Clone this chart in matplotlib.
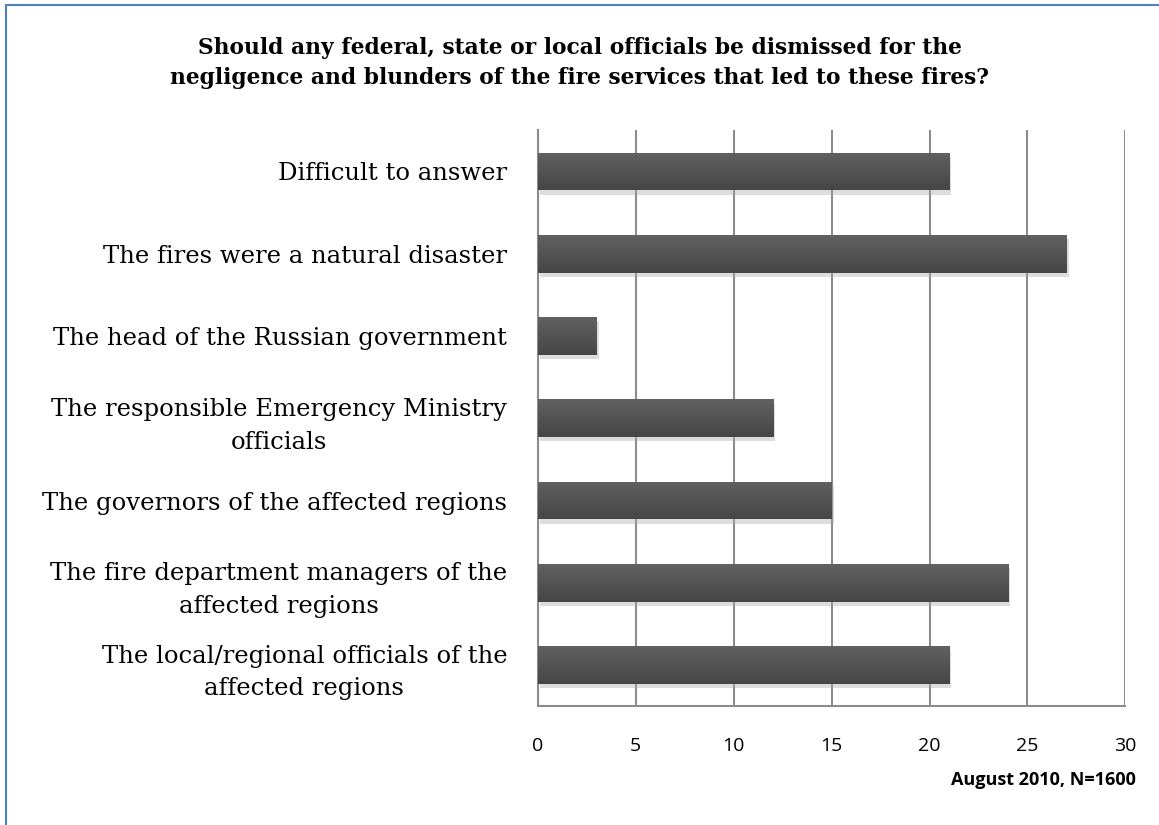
import numpy as np
import matplotlib.pyplot as plt
import matplotlib.patheffects as pe

# survey answers, top to bottom as shown
categories = ["Difficult to answer",
              "The fires were a natural disaster",
              "The head of the Russian government",
              "The responsible Emergency Ministry\nofficials",
              "The governors of the affected regions",
              "The fire department managers of the\naffected regions",
              "The local/regional officials of the\naffected regions"]
values = [21, 27, 3, 12, 15, 24, 21]
xticks = [0, 5, 10, 15, 20, 25, 30]

fig = plt.figure(figsize=(11.59, 8.25), dpi=100)
ax = fig.add_axes([0.464, 0.144, 0.507, 0.698])

y = np.arange(len(categories))
bars = ax.barh(y, values, height=0.46, color="#535353", zorder=3)
for b in bars:
    b.set_path_effects([pe.SimplePatchShadow(offset=(1.5, -3), shadow_rgbFace="#aaaaaa", alpha=0.4), pe.Normal()])

# light-to-dark vertical gradient on every bar
grad = np.linspace(0, 1, 64).reshape(-1, 1)
for b in bars:
    x0, y0 = b.get_x(), b.get_y()
    im = ax.imshow(grad, cmap=plt.matplotlib.colors.LinearSegmentedColormap.from_list("g", ["#616161", "#464646"]),
                   extent=(x0, x0 + b.get_width(), y0 + b.get_height(), y0), aspect="auto", zorder=3.5)
    im.set_clip_path(b)

ax.set_ylim(len(categories) - 0.5, -0.5)
ax.set_xlim(0, 30)
ax.set_xticks(xticks)
ax.set_xticklabels([str(t) for t in xticks], fontfamily="Open Sans", fontsize=14)
ax.set_yticks(y)
ax.set_yticklabels(categories, fontfamily="DejaVu Serif", fontsize=17.5, multialignment="center",
                   linespacing=1.55)
ax.tick_params(axis="both", length=0)
ax.tick_params(axis="x", pad=22)
ax.tick_params(axis="y", pad=22)
ax.grid(axis="x", color="#8c8c8c", linewidth=1.5, zorder=0)
for s in ["top", "right"]:
    ax.spines[s].set_visible(False)
for s in ["left", "bottom"]:
    ax.spines[s].set_color("#8c8c8c")
    ax.spines[s].set_linewidth(1.5)

fig.text(0.5, 0.924, "Should any federal, state or local officials be dismissed for the\n"
         "negligence and blunders of the fire services that led to these fires?",
         ha="center", va="center", fontfamily="DejaVu Serif", fontweight="bold", fontsize=15.7,
         linespacing=1.45)
fig.text(0.98, 0.055, "August 2010, N=1600", ha="right", va="center",
         fontfamily="Open Sans", fontweight="bold", fontsize=13)

# blue frame lines on top and left
fig.add_artist(plt.Line2D([0.005, 1], [0.994, 0.994], color="#4f81bd", linewidth=1.5))
fig.add_artist(plt.Line2D([0.005, 0.005], [0, 0.994], color="#4f81bd", linewidth=1.5))

fig.savefig("out.png", dpi=100)
